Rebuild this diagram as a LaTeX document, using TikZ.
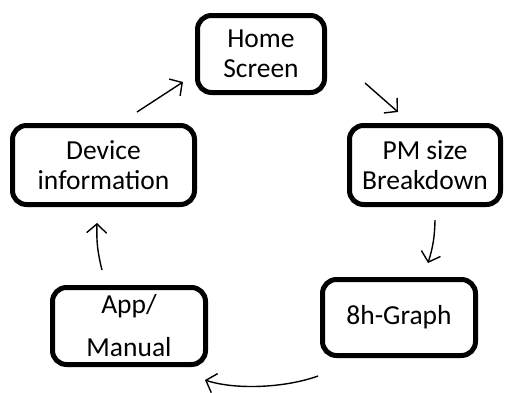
\documentclass[tikz,border=0pt]{standalone}
\usepackage{fontspec}
\setmainfont{Carlito}
\usetikzlibrary{arrows.meta}
\begin{document}
\begin{tikzpicture}[x=1pt,y=-1pt,
  stage/.style={draw=black,line width=5pt,rounded corners=14pt,inner sep=0pt,align=center,
    font=\fontsize{27.5}{30}\selectfont},
  flow/.style={line width=1.4pt,-{Straight Barb[length=9pt,width=20pt]}}]
\useasboundingbox (0,0) rectangle (506,392);
\node[stage,minimum width=127pt,minimum height=77pt] (home) at (261,54) {Home\\Screen};
\node[stage,minimum width=151pt,minimum height=79pt] (pm) at (425,165) {PM size\\Breakdown};
\node[stage,minimum width=182pt,minimum height=79pt] (dev) at (103.5,165) {Device\\information};
\node[stage,minimum width=153pt,minimum height=76pt] (graph) at (399,317.5) {8h-Graph};
\node[stage,minimum width=153pt,minimum height=77pt,font=\fontsize{27.5}{43}\selectfont] (app) at (129,326) {App/\\Manual};
\coordinate (a1s) at (365,83);
\coordinate (a1e) at (398,112);
\coordinate (a2s) at (435,220);
\coordinate (a2e) at (428,263);
\coordinate (a3s) at (318,376);
\coordinate (a3e) at (205,380);
\coordinate (a4s) at (102,270);
\coordinate (a4e) at (97,223);
\coordinate (a5s) at (137,112);
\coordinate (a5e) at (183,82);
\draw[flow] (a1s) -- (a1e);
\draw[flow] (a2s) to[bend left=8] (a2e);
\draw[flow] (a3s) .. controls (285,388) and (235,390) .. (a3e);
\draw[flow] (a4s) to[bend left=8] (a4e);
\draw[flow] (a5s) -- (a5e);
\end{tikzpicture}
\end{document}
